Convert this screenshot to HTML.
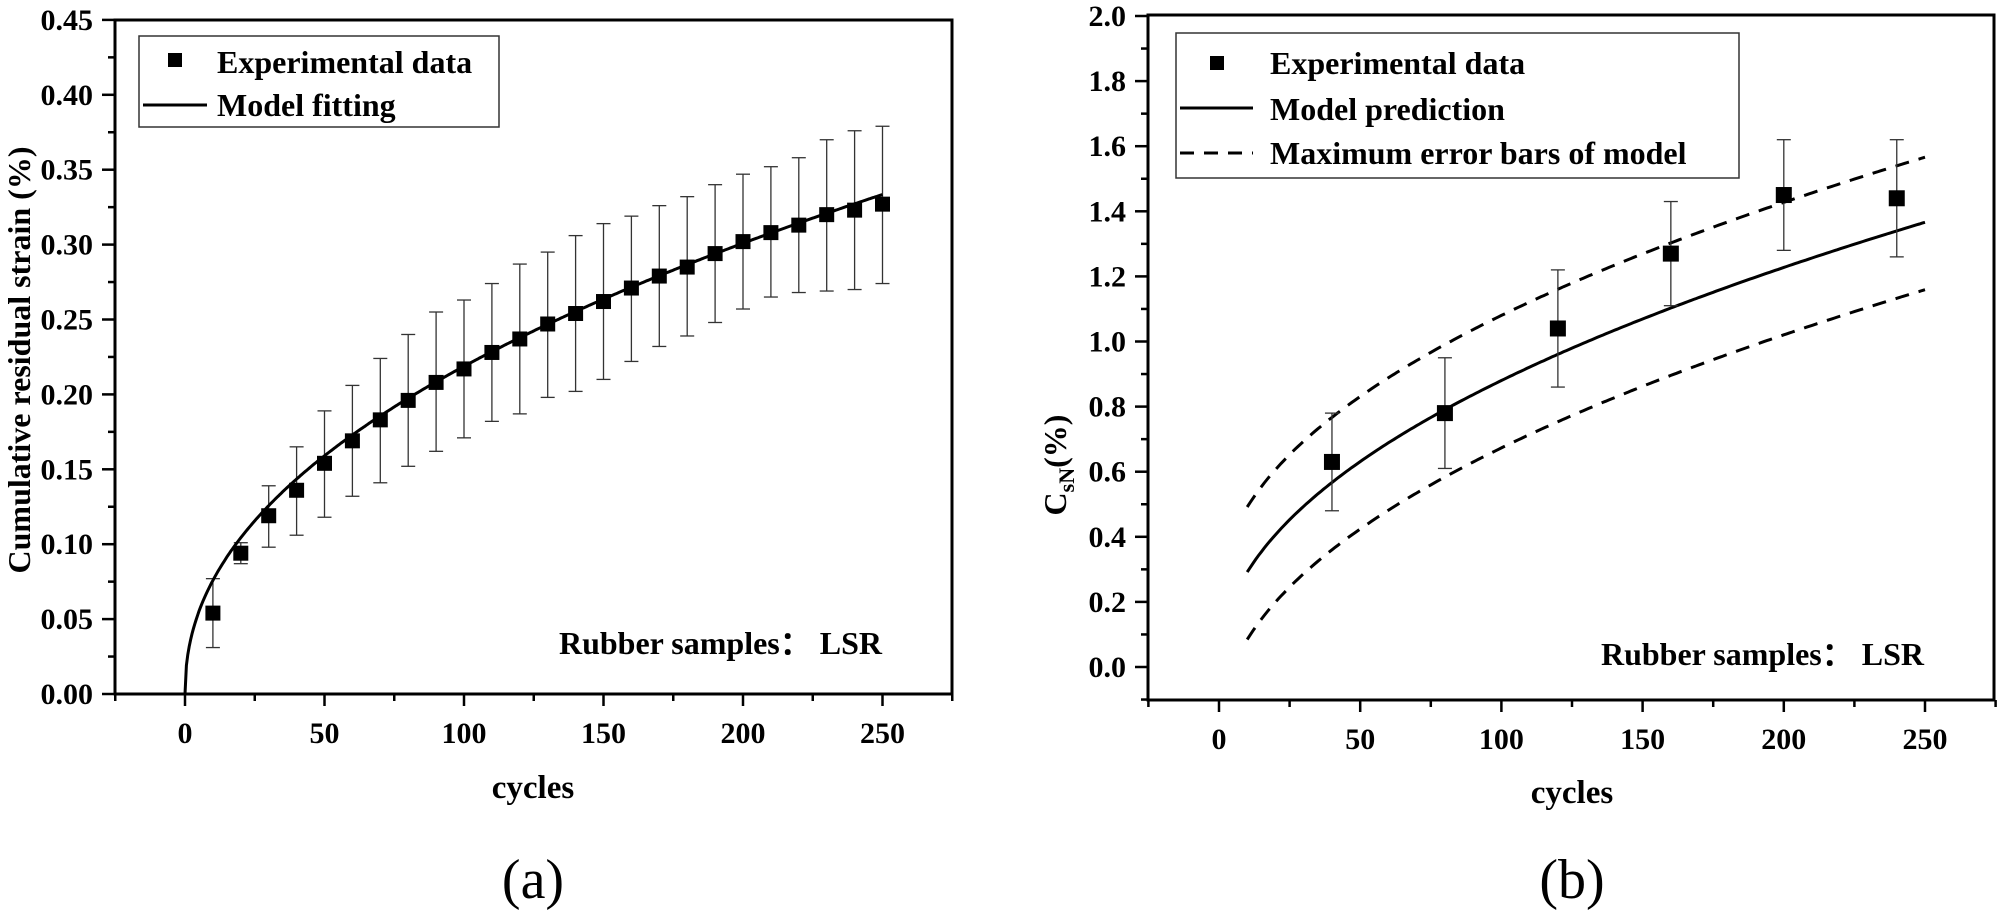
<!DOCTYPE html>
<html><head><meta charset="utf-8">
<style>
html,body{margin:0;padding:0;background:#fff;}
svg{display:block;}
text{font-family:"Liberation Serif","Times New Roman",serif;fill:#000;}
.b{font-weight:bold;}
</style></head>
<body>
<svg id="fig" width="2000" height="910" viewBox="0 0 2000 910" xmlns="http://www.w3.org/2000/svg"></svg>
<script>
// ---- Chart (a) data ----
const aCycles = [10,20,30,40,50,60,70,80,90,100,110,120,130,140,150,160,170,180,190,200,210,220,230,240,250];
const aStrain = [0.054,0.094,0.119,0.136,0.154,0.169,0.183,0.196,0.208,0.217,0.228,0.237,0.247,0.254,0.262,0.271,0.279,0.285,0.294,0.302,0.308,0.313,0.320,0.323,0.327];
const aUpper = [0.077,0.101,0.139,0.165,0.189,0.206,0.224,0.240,0.255,0.263,0.274,0.287,0.295,0.306,0.314,0.319,0.326,0.332,0.340,0.347,0.352,0.358,0.370,0.376,0.379];
const aLower = [0.031,0.087,0.098,0.106,0.118,0.132,0.141,0.152,0.162,0.171,0.182,0.187,0.198,0.202,0.210,0.222,0.232,0.239,0.248,0.257,0.265,0.268,0.269,0.270,0.274];
const aFitParams = [0.0263, 0.46]; // fitted power-law coefficients
const aXTicks = [0,50,100,150,200,250];
const aYTicks = ["0.00","0.05","0.10","0.15","0.20","0.25","0.30","0.35","0.40","0.45"];
// ---- Chart (b) data ----
const bCycles = [40,80,120,160,200,240];
const bCsN = [0.63,0.78,1.04,1.27,1.45,1.44];
const bUpper = [0.78,0.95,1.22,1.43,1.62,1.62];
const bLower = [0.48,0.61,0.86,1.11,1.28,1.26];
const bModelParams = [0.0965, 0.48];
const bBandOffset = [0.2, -0.207];
const bXTicks = [0,50,100,150,200,250];
const bYTicks = ["0.0","0.2","0.4","0.6","0.8","1.0","1.2","1.4","1.6","1.8","2.0"];

const NS="http://www.w3.org/2000/svg";
const svg=document.getElementById('fig');
function el(tag,attrs,parent){const e=document.createElementNS(NS,tag);for(const k in attrs)e.setAttribute(k,attrs[k]);(parent||svg).appendChild(e);return e;}
function txt(s,attrs,parent){const t=el('text',attrs,parent);t.textContent=s;return t;}

function axes(g,L,R,T,B,xs,ys,xmin,xmax,ymin,ymax,xTicks,yTicks,xMinorStep,yMinorStep){
  const f=el('rect',{x:L,y:T,width:R-L,height:B-T,fill:'none',stroke:'#000','stroke-width':3},g);
  
  const xg=el('g',{},g);
  
  for(let v=xmin;v<=xmax+1e-9;v+=xMinorStep){
    const major=xTicks.indexOf(Math.round(v))>=0;
    el('line',{x1:xs(v),x2:xs(v),y1:B,y2:B+(major?12:7),stroke:'#000','stroke-width':2.5},xg);
  }
  xTicks.forEach(v=>{const t=txt(String(v),{x:xs(v),y:B+49,'text-anchor':'middle','font-size':30,class:'b'},xg);
    });
  const yg=el('g',{},g);
  
  for(let v=ymin;v<=ymax+1e-9;v+=yMinorStep){
    const major=yTicks.some(s=>Math.abs(parseFloat(s)-v)<1e-6);
    el('line',{x1:L,x2:L-(major?13:7),y1:ys(v),y2:ys(v),stroke:'#000','stroke-width':2.5},yg);
  }
  yTicks.forEach(s=>{const t=txt(s,{x:L-22,y:ys(parseFloat(s))+10,'text-anchor':'end','font-size':30,class:'b'},yg);
    });
}

// ===== Chart A =====
(function(){
  const L=115,R=952,T=20,B=694;
  const xs=v=>185+v*2.79, ys=v=>694-v*1498;
  const g=el('g',{});
  
  axes(g,L,R,T,B,xs,ys,-25,275,0,0.45,aXTicks,aYTicks,25,0.025);
  aCycles.forEach((c,i)=>{
    const e=el('g',{stroke:'#333','stroke-width':1.3},g);
    
    el('line',{x1:xs(c),x2:xs(c),y1:ys(aUpper[i]),y2:ys(aLower[i])},e);
    el('line',{x1:xs(c)-7,x2:xs(c)+7,y1:ys(aUpper[i]),y2:ys(aUpper[i])},e);
    el('line',{x1:xs(c)-7,x2:xs(c)+7,y1:ys(aLower[i]),y2:ys(aLower[i])},e);
  });
  let d='';
  for(let c=0;c<=250;c+=0.5){const v=aFitParams[0]*Math.pow(c,aFitParams[1]);d+=(c?'L':'M')+xs(c).toFixed(1)+','+ys(v).toFixed(1);}
  const fit=el('path',{d:d,fill:'none',stroke:'#000','stroke-width':3},g);
  
  aCycles.forEach((c,i)=>{
    const m=el('rect',{x:xs(c)-7.5,y:ys(aStrain[i])-7.5,width:15,height:15,fill:'#000'},g);
    
  });
  const lg=el('g',{},g);
  
  el('rect',{x:139,y:36,width:360,height:91,fill:'#fff',stroke:'#333','stroke-width':1.5},lg);
  el('rect',{x:168,y:53,width:14,height:14,fill:'#000'},lg);
  txt('Experimental data',{x:217,y:73,'font-size':32,class:'b'},lg);
  el('line',{x1:143,x2:207,y1:105,y2:105,stroke:'#000','stroke-width':3},lg);
  txt('Model fitting',{x:217,y:116,'font-size':32,class:'b'},lg);
  const an=txt('Rubber samples\uFF1A LSR',{x:882,y:654,'text-anchor':'end','font-size':32,class:'b'},g);
  
  const xt=txt('cycles',{x:533,y:798,'text-anchor':'middle','font-size':33,class:'b'},g);
  
  const yt=txt('Cumulative residual strain (%)',{x:0,y:0,transform:'translate(30,360) rotate(-90)','text-anchor':'middle','font-size':32,class:'b'},g);
  
  const pl=txt('(a)',{x:533,y:898,'text-anchor':'middle','font-size':56},g);
  
})();

// ===== Chart B =====
(function(){
  const L=1148,R=1994,T=15,B=700;
  const xs=v=>1219+v*2.824, ys=v=>667-v*325.5;
  const g=el('g',{});
  
  axes(g,L,R,T,B,xs,ys,-25,275,-0.1,2.0,bXTicks,bYTicks,25,0.1);
  const model=c=>bModelParams[0]*Math.pow(c,bModelParams[1]);
  function path(off){let d='';for(let c=10;c<=250;c+=1){d+=(c>10?'L':'M')+xs(c).toFixed(1)+','+ys(model(c)+off).toFixed(1);}return d;}
  const up=el('path',{d:path(bBandOffset[0]),fill:'none',stroke:'#000','stroke-width':3,'stroke-dasharray':'14 10'},g);
  
  const lo=el('path',{d:path(bBandOffset[1]),fill:'none',stroke:'#000','stroke-width':3,'stroke-dasharray':'14 10'},g);
  
  const mp=el('path',{d:path(0),fill:'none',stroke:'#000','stroke-width':3},g);
  
  bCycles.forEach((c,i)=>{
    const e=el('g',{stroke:'#333','stroke-width':1.3},g);
    
    el('line',{x1:xs(c),x2:xs(c),y1:ys(bUpper[i]),y2:ys(bLower[i])},e);
    el('line',{x1:xs(c)-7,x2:xs(c)+7,y1:ys(bUpper[i]),y2:ys(bUpper[i])},e);
    el('line',{x1:xs(c)-7,x2:xs(c)+7,y1:ys(bLower[i]),y2:ys(bLower[i])},e);
    const m=el('rect',{x:xs(c)-8,y:ys(bCsN[i])-8,width:16,height:16,fill:'#000',stroke:'none'},g);
    
  });
  const lg=el('g',{},g);
  
  el('rect',{x:1176,y:33,width:563,height:145,fill:'#fff',stroke:'#333','stroke-width':1.5},lg);
  el('rect',{x:1210,y:56,width:14,height:14,fill:'#000'},lg);
  txt('Experimental data',{x:1270,y:74,'font-size':32,class:'b'},lg);
  el('line',{x1:1180,x2:1253,y1:108,y2:108,stroke:'#000','stroke-width':3},lg);
  txt('Model prediction',{x:1270,y:120,'font-size':32,class:'b'},lg);
  el('line',{x1:1180,x2:1253,y1:153,y2:153,stroke:'#000','stroke-width':3,'stroke-dasharray':'14 10'},lg);
  txt('Maximum error bars of model',{x:1270,y:164,'font-size':32,class:'b'},lg);
  const an=txt('Rubber samples\uFF1A LSR',{x:1924,y:665,'text-anchor':'end','font-size':32,class:'b'},g);
  
  const xt=txt('cycles',{x:1572,y:803,'text-anchor':'middle','font-size':33,class:'b'},g);
  
  const yt=el('text',{transform:'translate(1066,465) rotate(-90)','text-anchor':'middle','font-size':32,class:'b'},g);
  
  const t1=el('tspan',{},yt);t1.textContent='C';
  const t2=el('tspan',{'font-size':22,dy:8},yt);t2.textContent='sN';
  const t3=el('tspan',{dy:-8},yt);t3.textContent='(%)';
  const pl=txt('(b)',{x:1572,y:898,'text-anchor':'middle','font-size':56},g);
  
})();
</script>
</body></html>
